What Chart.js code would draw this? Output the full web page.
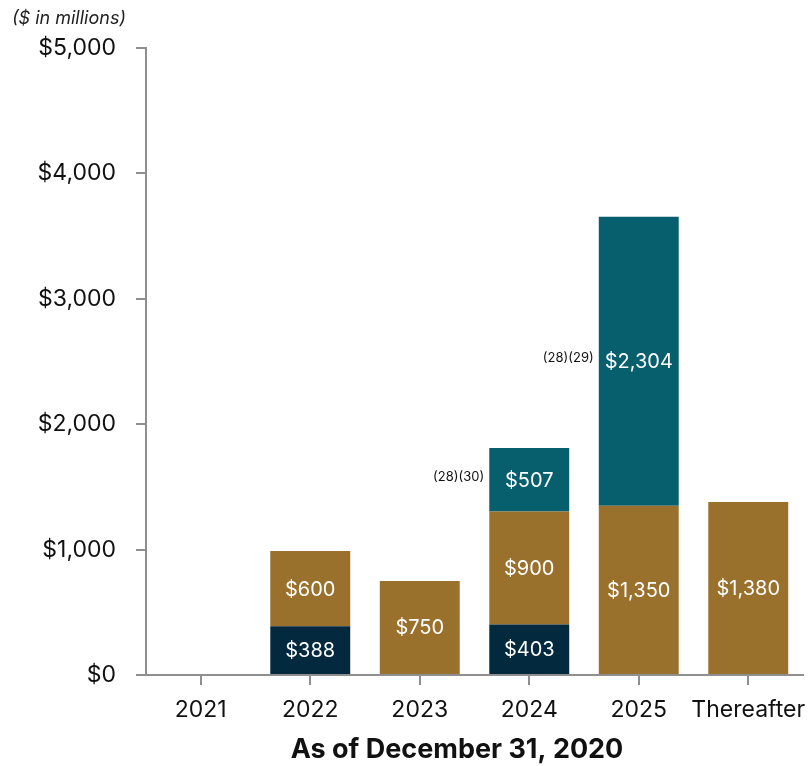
<!DOCTYPE html>
<html>
<head>
<meta charset="utf-8">
<style>
  html, body { margin: 0; padding: 0; background: #fff; }
  canvas { display: block; }
</style>
<script src="https://cdn.jsdelivr.net/npm/chart.js@4"></script>
</head>
<body>
<canvas id="myChart" width="812" height="766"></canvas>
<script>
const years = ['2021', '2022', '2023', '2024', '2025', 'Thereafter'];
const navyValues = [null, 388, null, 403, null, null];
const goldValues = [null, 600, 750, 900, 1350, 1380];
const tealValues = [null, null, null, 507, 2304, null];
const tealNotes = ['', '', '', '(28)(30)', '(28)(29)', ''];
const yTicks = [0, 1000, 2000, 3000, 4000, 5000];

const font = 'Inter, "Open Sans", sans-serif';
const axisGray = '#8f8f8f';

const money = v => '$' + v.toLocaleString('en-US');

const barLabels = {
    id: 'barLabels',
    afterDatasetsDraw(chart) {
        const c = chart.ctx;
        c.save();
        chart.data.datasets.forEach((ds, i) => {
            const meta = chart.getDatasetMeta(i);
            meta.data.forEach((bar, j) => {
                const v = ds.data[j];
                if (v == null) return;
                const cy = (bar.y + bar.base) / 2;
                c.fillStyle = '#ffffff';
                c.font = '20px ' + font;
                c.textAlign = 'center';
                c.textBaseline = 'middle';
                c.fillText(money(v), bar.x, cy + 1);
                if (ds.notes && ds.notes[j]) {
                    c.fillStyle = '#111111';
                    c.font = '13px ' + font;
                    c.textAlign = 'right';
                    c.fillText(ds.notes[j], bar.x - bar.width / 2 - 5, cy - 3);
                }
            });
        });
        // units note and axis title
        c.fillStyle = '#222222';
        c.font = 'italic 18px ' + font;
        c.textAlign = 'left';
        c.textBaseline = 'middle';
        c.fillText('($ in millions)', 12, 19);
        c.fillStyle = '#111111';
        c.font = 'bold 27px ' + font;
        c.textAlign = 'center';
        c.fillText('As of December 31, 2020', 457, 750);
        c.restore();
    }
};

new Chart(document.getElementById('myChart'), {
    type: 'bar',
    data: {
        labels: years,
        datasets: [
            { label: 'navy', data: navyValues, backgroundColor: '#03293f' },
            { label: 'gold', data: goldValues, backgroundColor: '#9a702d' },
            { label: 'teal', data: tealValues, notes: tealNotes, backgroundColor: '#075e6d' }
        ]
    },
    options: {
        responsive: false,
        animation: false,
        events: [],
        layout: { padding: { top: 48, right: 9, left: 0, bottom: 0 } },
        datasets: { bar: { categoryPercentage: 1, barPercentage: 0.73 } },
        plugins: {
            legend: { display: false },
            tooltip: { enabled: false }
        },
        scales: {
            x: {
                stacked: true,
                afterFit(scale) {
                    scale.height = 91;
                    scale.paddingLeft = 0;
                    scale.paddingRight = 0;
                },
                border: { color: axisGray, width: 2 },
                grid: { offset: false, drawOnChartArea: false, tickLength: 10, color: axisGray, lineWidth: 2 },
                ticks: {
                    color: '#111111',
                    font: { family: font, size: 23 },
                    padding: 11,
                    maxRotation: 0,
                    minRotation: 0,
                    autoSkip: false
                }
            },
            y: {
                stacked: true,
                min: 0,
                max: 5000,
                afterFit(scale) { scale.width = 146; },
                afterBuildTicks(scale) { scale.ticks = yTicks.map(v => ({ value: v })); },
                border: { color: axisGray, width: 2 },
                grid: { drawOnChartArea: false, tickLength: 10, color: axisGray, lineWidth: 2 },
                ticks: {
                    color: '#111111',
                    font: { family: font, size: 23 },
                    padding: 20,
                    callback: v => money(v)
                }
            }
        }
    },
    plugins: [barLabels]
});
</script>
</body>
</html>
